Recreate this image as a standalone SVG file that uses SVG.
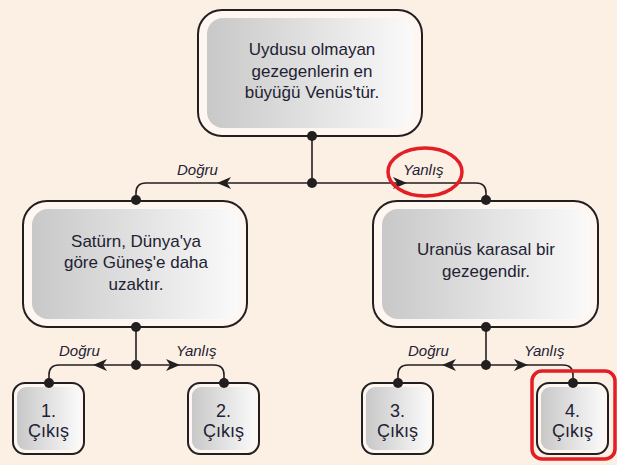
<svg xmlns="http://www.w3.org/2000/svg" width="617" height="465" viewBox="0 0 617 465">
<defs>
<linearGradient id="g" x1="0" y1="0" x2="1" y2="0">
<stop offset="0" stop-color="#c8c8c8"/>
<stop offset="1" stop-color="#fafafa"/>
</linearGradient>
<path id="al" d="M0,0 L14,-6 L10,0 L14,6 Z" fill="#231f20"/>
</defs>
<style>
.outer{fill:#fef7f1;stroke:#231f20;stroke-width:2}
.inner{fill:url(#g);stroke:none}
.t{font-family:"Liberation Sans",Arial,sans-serif;font-size:17px;fill:#1e2233;text-anchor:middle}
.lt{font-family:"Liberation Sans",Arial,sans-serif;font-size:18px;fill:#1e2233;text-anchor:middle}
.lb{font-family:"Liberation Sans",Arial,sans-serif;font-size:15px;font-style:italic;fill:#1e2233}
.c{fill:none;stroke:#231f20;stroke-width:1.6}
.d{fill:#231f20}
.red{fill:none;stroke:#e31e24;stroke-width:3.5}
</style>
<rect width="617" height="465" fill="#fcefe4"/>

<g id="connectors">
<path class="c" d="M312,136 V183"/>
<path class="c" d="M312,183 H146 Q136,183 136,193 V200"/>
<path class="c" d="M312,183 H476 Q486,183 486,193 V200"/>
<path class="c" d="M136,327 V365"/>
<path class="c" d="M136,365 H59 Q49,365 49,375 V383"/>
<path class="c" d="M136,365 H214 Q224,365 224,375 V383"/>
<path class="c" d="M486,327 V365"/>
<path class="c" d="M486,365 H408 Q398,365 398,375 V383"/>
<path class="c" d="M486,365 H563 Q573,365 573,375 V383"/>
<use href="#al" transform="translate(217,183)"/>
<use href="#al" transform="translate(407,183) scale(-1,1)"/>
<use href="#al" transform="translate(93,365)"/>
<use href="#al" transform="translate(180,365) scale(-1,1)"/>
<use href="#al" transform="translate(442,365)"/>
<use href="#al" transform="translate(528,365) scale(-1,1)"/>
<text class="lb" x="177" y="175">Doğru</text>
<text class="lb" x="403" y="175">Yanlış</text>
<text class="lb" x="59" y="356">Doğru</text>
<text class="lb" x="176" y="356">Yanlış</text>
<text class="lb" x="408" y="356">Doğru</text>
<text class="lb" x="524" y="356">Yanlış</text>
</g>

<g id="node-root">
<rect class="outer" x="198" y="10" width="224" height="126" rx="24"/>
<rect class="inner" x="207" y="18" width="206" height="110" rx="16"/>
<text class="t" x="312" y="55">Uydusu olmayan</text>
<text class="t" x="312" y="77">gezegenlerin en</text>
<text class="t" x="312" y="98">büyüğü Venüs'tür.</text>
</g>

<g id="node-saturn">
<rect class="outer" x="23" y="201" width="224" height="126" rx="24"/>
<rect class="inner" x="32" y="209" width="207" height="110" rx="16"/>
<text class="t" x="136" y="247">Satürn, Dünya'ya</text>
<text class="t" x="136" y="268">göre Güneş'e daha</text>
<text class="t" x="136" y="290">uzaktır.</text>
</g>

<g id="node-uranus">
<rect class="outer" x="373" y="201" width="225" height="126" rx="24"/>
<rect class="inner" x="382" y="209" width="208" height="110" rx="16"/>
<text class="t" x="486" y="255">Uranüs karasal bir</text>
<text class="t" x="486" y="277">gezegendir.</text>
</g>

<g id="leaf-1">
<rect class="outer" x="13" y="383" width="71" height="71" rx="12"/>
<rect class="inner" x="17" y="387" width="63" height="63" rx="9"/>
<text class="lt" x="48.5" y="417">1.</text>
<text class="lt" x="48.5" y="437">Çıkış</text>
</g>
<g id="leaf-2">
<rect class="outer" x="188" y="383" width="71" height="71" rx="12"/>
<rect class="inner" x="192" y="387" width="63" height="63" rx="9"/>
<text class="lt" x="223.5" y="417">2.</text>
<text class="lt" x="223.5" y="437">Çıkış</text>
</g>
<g id="leaf-3">
<rect class="outer" x="362" y="383" width="71" height="71" rx="12"/>
<rect class="inner" x="366" y="387" width="63" height="63" rx="9"/>
<text class="lt" x="397.5" y="417">3.</text>
<text class="lt" x="397.5" y="437">Çıkış</text>
</g>
<g id="leaf-4">
<rect class="outer" x="537" y="383" width="71" height="71" rx="12"/>
<rect class="inner" x="541" y="387" width="63" height="63" rx="9"/>
<text class="lt" x="572.5" y="417">4.</text>
<text class="lt" x="572.5" y="437">Çıkış</text>
</g>

<g id="dots">
<circle class="d" cx="312" cy="136" r="5"/>
<circle class="d" cx="312" cy="183" r="5"/>
<circle class="d" cx="136" cy="200" r="5"/>
<circle class="d" cx="486" cy="200" r="5"/>
<circle class="d" cx="136" cy="327" r="5"/>
<circle class="d" cx="136" cy="365" r="5"/>
<circle class="d" cx="49" cy="383" r="5"/>
<circle class="d" cx="224" cy="383" r="5"/>
<circle class="d" cx="486" cy="327" r="5"/>
<circle class="d" cx="486" cy="365" r="5"/>
<circle class="d" cx="398" cy="383" r="5"/>
<circle class="d" cx="573" cy="383" r="5"/>
</g>

<g id="highlights">
<ellipse class="red" cx="425" cy="172" rx="37" ry="24"/>
<rect class="red" x="532" y="371" width="83" height="88" rx="10" stroke-width="4"/>
</g>
</svg>
